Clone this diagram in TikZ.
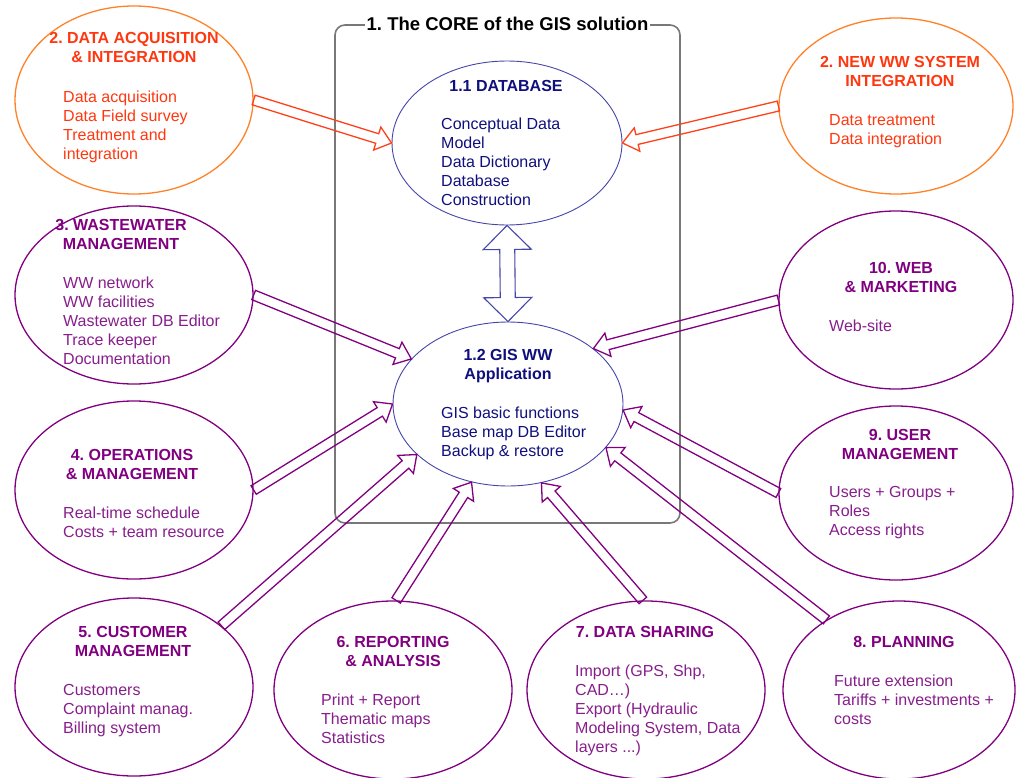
\documentclass[tikz,border=0pt]{standalone}
\usepackage{fontspec}
\setmainfont{Liberation Sans}
\usepackage{tikz}
\usetikzlibrary{shapes.geometric,calc,positioning}
\frenchspacing

\definecolor{acqline}{RGB}{255,130,40}
\definecolor{acqtext}{RGB}{255,55,15}
\definecolor{acqarrow}{RGB}{255,65,25}
\definecolor{mgmt}{RGB}{128,0,128}
\definecolor{mgmttext}{RGB}{135,30,140}
\definecolor{coreline}{RGB}{70,70,170}
\definecolor{coretext}{RGB}{15,15,125}
\definecolor{boxgray}{RGB}{120,120,120}

\newcommand{\blockarrow}[3][mgmtarrow]{%
  \coordinate (ba-h) at ($(#3)!15pt!(#2)$);
  \draw[#1] ($(#2)!5pt!90:(#3)$) -- ($(ba-h)!5pt!90:(#3)$) -- ($(ba-h)!12pt!90:(#3)$) -- (#3)
    -- ($(ba-h)!12pt!-90:(#3)$) -- ($(ba-h)!5pt!-90:(#3)$) -- ($(#2)!5pt!-90:(#3)$) -- cycle;
}

\begin{document}
\begin{tikzpicture}[x=1pt,y=-1pt,>=latex]
				\tikzstyle{every node}=[font=\fontsize{16}{19}\selectfont]
				\tikzstyle{part}=[ellipse, draw=mgmt, line width=1.3pt, minimum width=238pt, minimum height=178pt, inner sep=0pt]
				\tikzstyle{heading}=[anchor=north, align=center, inner sep=0pt, font=\bfseries\fontsize{16}{19}\selectfont]
				\tikzstyle{body}=[anchor=north west, align=left, inner sep=0pt]
				\tikzstyle{mgmtarrow}=[draw=mgmt, line width=1.3pt]
				\tikzstyle{acqarr}=[draw=acqarrow, line width=1.3pt]
				\useasboundingbox (0,0) rectangle (1016,778);
				%Core box
				\node[draw=boxgray, line width=1.6pt, rounded corners=10pt, minimum width=345pt, minimum height=498pt](core) at (507.5,274){};
				\node[fill=white, inner sep=2pt, font=\bfseries\fontsize{18.5}{22}\selectfont](coretitle) at (core.north){1. The CORE of the GIS solution};
				\node[part, draw=coreline, line width=0.9pt, minimum width=230pt, minimum height=164pt](db) at (507,143){};
				\node[part, draw=coreline, line width=0.9pt, minimum width=230pt, minimum height=164pt](gis) at (508,404){};
				\node[heading, text=coretext] at (506,80){1.1 DATABASE};
				\node[body, text=coretext] at (441,118){Conceptual Data\\Model\\Data Dictionary\\Database\\Construction};
				\node[heading, text=coretext] at (508,349){1.2 GIS WW\\Application};
				\node[body, text=coretext] at (441,407){GIS basic functions\\Base map DB Editor\\Backup \& restore};
				%Left Column
				\node[part, draw=acqline, minimum height=188pt](acq) at (134,100){};
				\node[part](ww) at (134,295){};
				\node[part](ops) at (134,490){};
				\node[part](cust) at (134,687){};
				\node[heading, text=acqtext] at (134,32){2. DATA ACQUISITION\\\& INTEGRATION};
				\node[body, text=acqtext] at (63,91){Data acquisition\\Data Field survey\\Treatment and\\integration};
				\node[heading, text=mgmt] at (121,219){3. WASTEWATER\\MANAGEMENT};
				\node[body, text=mgmttext] at (63,277){WW network\\WW facilities\\Wastewater DB Editor\\Trace keeper\\Documentation};
				\node[heading, text=mgmt] at (132,449){4. OPERATIONS\\\& MANAGEMENT};
				\node[body, text=mgmttext] at (63,507){Real-time schedule\\Costs + team resource};
				\node[heading, text=mgmt] at (133,626){5. CUSTOMER\\MANAGEMENT};
				\node[body, text=mgmttext] at (63,684){Customers\\Complaint manag.\\Billing system};
				%Bottom Row
				\node[part](rep) at (393,690){};
				\node[part](share) at (646,690){};
				\node[heading, text=mgmt] at (393,636){6. REPORTING\\\& ANALYSIS};
				\node[body, text=mgmttext] at (321,694){Print + Report\\Thematic maps\\Statistics};
				\node[heading, text=mgmt] at (645,626){7. DATA SHARING};
				\node[body, text=mgmttext] at (575,665){Import (GPS, Shp,\\CAD…)\\Export (Hydraulic\\Modeling System, Data\\layers ...)};
				%Right Column
				\node[part, draw=acqline, minimum width=234pt, minimum height=176pt](newww) at (896,106){};
				\node[part, minimum width=234pt](web) at (896,300){};
				\node[part, minimum width=234pt, minimum height=174pt](user) at (896,493){};
				\node[part, minimum width=232pt](plan) at (899,690){};
				\node[heading, text=acqtext] at (900,56){2. NEW WW SYSTEM\\INTEGRATION};
				\node[body, text=acqtext] at (829,114){Data treatment\\Data integration};
				\node[heading, text=mgmt] at (901,262){10. WEB\\\& MARKETING};
				\node[body, text=mgmttext] at (829,320){Web-site};
				\node[heading, text=mgmt] at (900,429){9. USER\\MANAGEMENT};
				\node[body, text=mgmttext] at (829,486){Users + Groups +\\Roles\\Access rights};
				\node[heading, text=mgmt] at (904,636){8. PLANNING};
				\node[body, text=mgmttext] at (834,675){Future extension\\Tariffs + investments +\\costs};
				%Arrows
				\blockarrow[acqarr]{acq.east}{db.west}
				\blockarrow[acqarr]{newww.west}{db.east}
				\blockarrow{ww.east}{gis.155}
				\blockarrow{ops.east}{gis.west}
				\blockarrow{cust.35}{gis.209}
				\blockarrow{rep.88}{gis.245}
				\blockarrow{share.92}{gis.293}
				\blockarrow{plan.136}{gis.336}
				\blockarrow{user.west}{gis.357}
				\blockarrow{web.west}{gis.33}
				\coordinate (h1) at ($(db.south)!24pt!(gis.north)$);
				\coordinate (h2) at ($(gis.north)!24pt!(db.south)$);
				\draw[coreline, line width=1.1pt] (db.south) -- ($(h1)!24pt!90:(gis.north)$) -- ($(h1)!7.5pt!90:(gis.north)$)
					-- ($(h2)!7.5pt!-90:(db.south)$) -- ($(h2)!24pt!-90:(db.south)$) -- (gis.north)
					-- ($(h2)!24pt!90:(db.south)$) -- ($(h2)!7.5pt!90:(db.south)$)
					-- ($(h1)!7.5pt!-90:(gis.north)$) -- ($(h1)!24pt!-90:(gis.north)$) -- cycle;
\end{tikzpicture}
\end{document}
